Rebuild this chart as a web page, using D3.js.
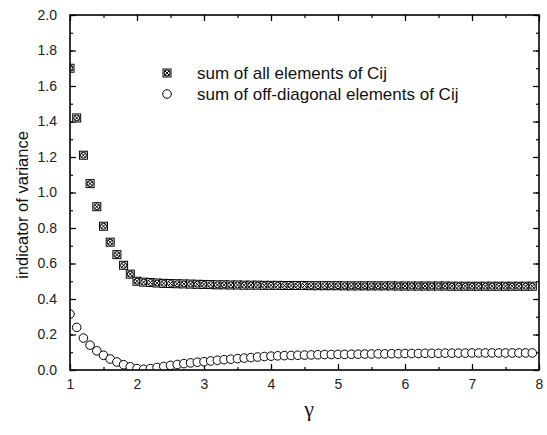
<!DOCTYPE html>
<html>
<head>
<meta charset="utf-8">
<script src="https://cdn.jsdelivr.net/npm/d3@7"></script>
<style>
  body { margin: 0; background: #fff; }
  svg { font-family: "Liberation Sans", Arial, sans-serif; }
</style>
</head>
<body>
<svg width="547" height="435"></svg>
<script>
// gamma values, 1.0 .. 7.9 step 0.1
var gammaVals = [
  1.0, 1.1, 1.2, 1.3, 1.4, 1.5, 1.6, 1.7, 1.8, 1.9,
  2.0, 2.1, 2.2, 2.3, 2.4, 2.5, 2.6, 2.7, 2.8, 2.9,
  3.0, 3.1, 3.2, 3.3, 3.4, 3.5, 3.6, 3.7, 3.8, 3.9,
  4.0, 4.1, 4.2, 4.3, 4.4, 4.5, 4.6, 4.7, 4.8, 4.9,
  5.0, 5.1, 5.2, 5.3, 5.4, 5.5, 5.6, 5.7, 5.8, 5.9,
  6.0, 6.1, 6.2, 6.3, 6.4, 6.5, 6.6, 6.7, 6.8, 6.9,
  7.0, 7.1, 7.2, 7.3, 7.4, 7.5, 7.6, 7.7, 7.8, 7.9
];

var sumAll = [
  1.70, 1.42, 1.21, 1.05, 0.92, 0.81, 0.72, 0.65, 0.59, 0.54,
  0.500, 0.495, 0.493, 0.490, 0.488, 0.487, 0.486, 0.485, 0.484, 0.483,
  0.482, 0.481, 0.480, 0.480, 0.479, 0.479, 0.478, 0.478, 0.478, 0.477,
  0.477, 0.477, 0.476, 0.476, 0.476, 0.476, 0.475, 0.475, 0.475, 0.475,
  0.475, 0.474, 0.474, 0.474, 0.474, 0.474, 0.474, 0.474, 0.474, 0.473,
  0.473, 0.473, 0.473, 0.473, 0.473, 0.473, 0.473, 0.472, 0.472, 0.472,
  0.472, 0.472, 0.472, 0.472, 0.472, 0.472, 0.472, 0.472, 0.472, 0.472
];

var sumOffDiag = [
  0.315, 0.240, 0.180, 0.140, 0.108, 0.083, 0.062, 0.045, 0.030, 0.018,
  0.008, 0.004, 0.008, 0.014, 0.020, 0.026, 0.031, 0.036, 0.040, 0.044,
  0.047, 0.051, 0.055, 0.058, 0.061, 0.064, 0.067, 0.070, 0.073, 0.076,
  0.078, 0.080, 0.081, 0.082, 0.083, 0.084, 0.085, 0.086, 0.087, 0.087,
  0.088, 0.088, 0.089, 0.089, 0.090, 0.090, 0.091, 0.091, 0.092, 0.092,
  0.093, 0.093, 0.093, 0.094, 0.094, 0.094, 0.095, 0.095, 0.095, 0.095,
  0.096, 0.096, 0.096, 0.096, 0.096, 0.096, 0.096, 0.096, 0.096, 0.096
];

var xTicks = [1, 2, 3, 4, 5, 6, 7, 8];
var yTicks = [0.0, 0.2, 0.4, 0.6, 0.8, 1.0, 1.2, 1.4, 1.6, 1.8, 2.0];
var legendLabels = ["sum of all elements of Cij", "sum of off-diagonal elements of Cij"];

var svg = d3.select("svg");
var plotL = 70, plotR = 539, plotT = 15, plotB = 370;

var x = d3.scaleLinear().domain([1, 8]).range([plotL, plotR]);
var y = d3.scaleLinear().domain([0, 2]).range([plotB, plotT]);

svg.append("defs").append("clipPath").attr("id", "plot-clip")
    .append("rect")
    .attr("x", plotL).attr("y", plotT)
    .attr("width", plotR - plotL).attr("height", plotB - plotT);

// axes with inward ticks
var axisColor = "#000";
var xMinor = d3.range(1, 8.01, 0.5);
var yMinor = d3.range(0, 2.01, 0.1);

svg.append("g")
    .attr("transform", "translate(0," + plotB + ")")
    .call(d3.axisBottom(x).tickValues(xMinor).tickSize(-3).tickFormat(""))
    .call(g => g.select(".domain").remove());
svg.append("g")
    .attr("transform", "translate(0," + plotB + ")")
    .call(d3.axisBottom(x).tickValues(xTicks).tickSize(-6).tickPadding(9).tickFormat(d3.format("d")))
    .call(g => g.select(".domain").remove())
    .call(g => g.selectAll("text").attr("font-size", 14).attr("fill", "#222").attr("dy", "0.71em"));

svg.append("g")
    .attr("transform", "translate(0," + plotT + ")")
    .call(d3.axisTop(x).tickValues(xMinor).tickSize(-3).tickFormat(""))
    .call(g => g.select(".domain").remove());
svg.append("g")
    .attr("transform", "translate(0," + plotT + ")")
    .call(d3.axisTop(x).tickValues(xTicks).tickSize(-6).tickFormat(""))
    .call(g => g.select(".domain").remove());

svg.append("g")
    .attr("transform", "translate(" + plotL + ",0)")
    .call(d3.axisLeft(y).tickValues(yMinor).tickSize(-3).tickFormat(""))
    .call(g => g.select(".domain").remove());
svg.append("g")
    .attr("transform", "translate(" + plotL + ",0)")
    .call(d3.axisLeft(y).tickValues(yTicks).tickSize(-6).tickPadding(13).tickFormat(d3.format(".1f")))
    .call(g => g.select(".domain").remove())
    .call(g => g.selectAll("text").attr("font-size", 14).attr("fill", "#222"));

svg.append("g")
    .attr("transform", "translate(" + plotR + ",0)")
    .call(d3.axisRight(y).tickValues(yMinor).tickSize(-3).tickFormat(""))
    .call(g => g.select(".domain").remove());
svg.append("g")
    .attr("transform", "translate(" + plotR + ",0)")
    .call(d3.axisRight(y).tickValues(yTicks).tickSize(-6).tickFormat(""))
    .call(g => g.select(".domain").remove());

svg.selectAll(".tick line").attr("stroke", axisColor).attr("stroke-width", 1.2);

// markers
function crossedMarker(g, cx, cy) {
    g.append("rect").attr("x", cx - 4).attr("y", cy - 4).attr("width", 8).attr("height", 8)
        .attr("fill", "#fff").attr("stroke", "#000").attr("stroke-width", 1);
    g.append("circle").attr("cx", cx).attr("cy", cy).attr("r", 3)
        .attr("fill", "none").attr("stroke", "#000").attr("stroke-width", 1);
    g.append("path")
        .attr("d", "M" + (cx - 2.5) + "," + (cy - 2.5) + "L" + (cx + 2.5) + "," + (cy + 2.5) +
                   "M" + (cx + 2.5) + "," + (cy - 2.5) + "L" + (cx - 2.5) + "," + (cy + 2.5))
        .attr("stroke", "#000").attr("stroke-width", 1);
}
function circleMarker(g, cx, cy) {
    g.append("circle").attr("cx", cx).attr("cy", cy).attr("r", 4.3)
        .attr("fill", "#fff").attr("stroke", "#000").attr("stroke-width", 1);
}

var pts1 = svg.append("g").attr("clip-path", "url(#plot-clip)");
gammaVals.forEach(function(g, i) { crossedMarker(pts1, x(g), y(sumAll[i])); });

var pts2 = svg.append("g").attr("clip-path", "url(#plot-clip)");
gammaVals.forEach(function(g, i) { circleMarker(pts2, x(g), y(sumOffDiag[i])); });

svg.append("rect")
    .attr("x", plotL).attr("y", plotT)
    .attr("width", plotR - plotL).attr("height", plotB - plotT)
    .attr("fill", "none").attr("stroke", axisColor).attr("stroke-width", 1.6);

// legend
var legend = svg.append("g");
crossedMarker(legend, 167, 73);
circleMarker(legend, 167, 94);
legend.selectAll("text")
    .data(legendLabels)
    .enter().append("text")
    .attr("x", 197)
    .attr("y", function(d, i) { return 73 + i * 21; })
    .attr("dy", "0.35em")
    .attr("font-size", 17)
    .attr("fill", "#111")
    .text(function(d) { return d; });

// axis titles
svg.append("text")
    .attr("transform", "translate(28,205) rotate(-90)")
    .attr("text-anchor", "middle")
    .attr("font-size", 16.5)
    .attr("fill", "#111")
    .text("indicator of variance");

svg.append("text")
    .attr("x", 309)
    .attr("y", 416)
    .attr("text-anchor", "middle")
    .attr("font-family", "'Liberation Serif', 'DejaVu Serif', serif")
    .attr("font-size", 22)
    .attr("fill", "#111")
    .text("γ");
</script>
</body>
</html>
